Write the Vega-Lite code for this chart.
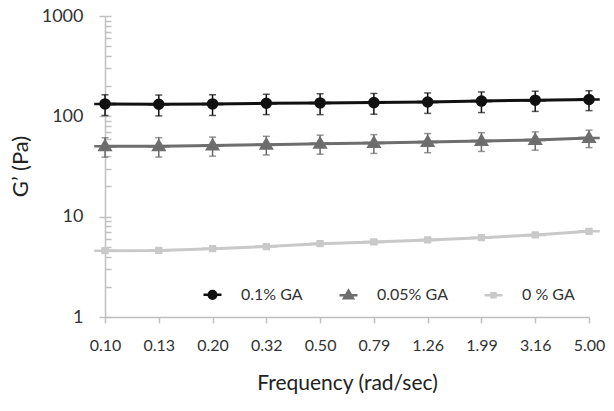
{
  "$schema": "https://vega.github.io/schema/vega-lite/v6.json",
  "width": 484,
  "height": 301,
  "autosize": {"type": "none"},
  "padding": {"left": 105, "top": 16, "right": 25, "bottom": 94},
  "config": {
    "view": {"stroke": null},
    "font": "Lato",
    "axis": {"grid": false, "domainColor": "#c0c0c0", "tickColor": "#c0c0c0", "domainWidth": 1.5, "tickWidth": 1.5, "labelFont": "Lato", "titleFont": "Lato", "labelColor": "#333", "titleColor": "#222", "titleFontWeight": "normal"}
  },
  "data": {
    "values": [
      {"freq": "0.10", "series": "0.1% GA", "g": 133, "err": 31},
      {"freq": "0.13", "series": "0.1% GA", "g": 132, "err": 31},
      {"freq": "0.20", "series": "0.1% GA", "g": 133, "err": 31},
      {"freq": "0.32", "series": "0.1% GA", "g": 135, "err": 31},
      {"freq": "0.50", "series": "0.1% GA", "g": 136, "err": 32},
      {"freq": "0.79", "series": "0.1% GA", "g": 137, "err": 32},
      {"freq": "1.26", "series": "0.1% GA", "g": 139, "err": 32},
      {"freq": "1.99", "series": "0.1% GA", "g": 142, "err": 33},
      {"freq": "3.16", "series": "0.1% GA", "g": 145, "err": 33},
      {"freq": "5.00", "series": "0.1% GA", "g": 147, "err": 33},
      {"freq": "0.10", "series": "0.05% GA", "g": 50.2, "err": 11},
      {"freq": "0.13", "series": "0.05% GA", "g": 50.3, "err": 11},
      {"freq": "0.20", "series": "0.05% GA", "g": 51.1, "err": 11},
      {"freq": "0.32", "series": "0.05% GA", "g": 52.2, "err": 11},
      {"freq": "0.50", "series": "0.05% GA", "g": 53.4, "err": 11.5},
      {"freq": "0.79", "series": "0.05% GA", "g": 54.2, "err": 11.5},
      {"freq": "1.26", "series": "0.05% GA", "g": 55.4, "err": 12},
      {"freq": "1.99", "series": "0.05% GA", "g": 56.7, "err": 12},
      {"freq": "3.16", "series": "0.05% GA", "g": 58.0, "err": 12},
      {"freq": "5.00", "series": "0.05% GA", "g": 60.8, "err": 12},
      {"freq": "0.10", "series": "0 % GA", "g": 4.58, "err": 0.2},
      {"freq": "0.13", "series": "0 % GA", "g": 4.61, "err": 0.2},
      {"freq": "0.20", "series": "0 % GA", "g": 4.80, "err": 0.2},
      {"freq": "0.32", "series": "0 % GA", "g": 5.03, "err": 0.2},
      {"freq": "0.50", "series": "0 % GA", "g": 5.38, "err": 0.25},
      {"freq": "0.79", "series": "0 % GA", "g": 5.60, "err": 0.25},
      {"freq": "1.26", "series": "0 % GA", "g": 5.86, "err": 0.25},
      {"freq": "1.99", "series": "0 % GA", "g": 6.18, "err": 0.3},
      {"freq": "3.16", "series": "0 % GA", "g": 6.57, "err": 0.3},
      {"freq": "5.00", "series": "0 % GA", "g": 7.14, "err": 0.3}
    ]
  },
  "layer": [
    {
      "mark": {"type": "line", "strokeWidth": 3},
      "encoding": {
        "x": {
          "field": "freq", "type": "ordinal", "scale": {"type": "point", "padding": 0},
          "axis": {"title": "Frequency (rad/sec)", "labelAngle": 0, "labelFontSize": 16, "tickSize": 6, "labelPadding": 14, "titleFontSize": 21, "titlePadding": 19}
        },
        "y": {
          "field": "g", "type": "quantitative",
          "scale": {"type": "log", "domain": [1, 1000], "nice": false},
          "axis": {"orient": "left", "title": "G’ (Pa)", "values": [1, 10, 100, 1000], "format": "d", "tickSize": 6, "labelFontSize": 18, "labelPadding": 16, "titleFontSize": 22, "titleX": -85, "titleY": 150, "titleBaseline": "middle", "titleAlign": "center"}
        },
        "detail": {"field": "series"},
        "stroke": {"field": "series", "type": "nominal", "scale": {"domain": ["0.1% GA", "0.05% GA", "0 % GA"], "range": ["#111111", "#6e6e6e", "#c9c9c9"]}}
      }
    },
    {
      "mark": {"type": "errorbar", "ticks": {"size": 7, "thickness": 1.5}, "rule": {"strokeWidth": 1.5}},
      "encoding": {
        "x": {"field": "freq", "type": "ordinal"},
        "y": {"field": "g", "type": "quantitative", "axis": null},
        "yError": {"field": "err"},
        "color": {"field": "series", "type": "nominal"}
      }
    },
    {
      "mark": {"type": "point", "filled": true, "opacity": 1, "size": 462, "strokeWidth": 2.5},
      "encoding": {
        "x": {"field": "freq", "type": "ordinal"},
        "y": {
          "field": "g", "type": "quantitative",
          "axis": {"orient": "left", "title": null, "labels": false, "domain": false, "tickSize": -6, "values": [1,2,3,4,5,6,7,8,9,10,20,30,40,50,60,70,80,90,100,200,300,400,500,600,700,800,900,1000]}
        },
        "stroke": {"field": "series", "type": "nominal"},
        "color": {
          "field": "series", "type": "nominal",
          "scale": {"domain": ["0.1% GA", "0.05% GA", "0 % GA"], "range": ["#111111", "#6a6a6a", "#a8a8a8"]},
          "legend": {
            "title": null, "orient": "none", "direction": "horizontal", "legendX": 97, "legendY": 268,
            "labelFont": "Lato", "labelFontSize": 16, "labelColor": "#333", "labelOffset": 18,
            "columnPadding": 31, "symbolSize": 324, "symbolStrokeWidth": 2.5
          }
        },
        "shape": {"field": "series", "type": "nominal", "scale": {"domain": ["0.1% GA", "0.05% GA", "0 % GA"], "range": ["M-1,0H1M-0.42,0A0.42,0.42,0,1,1,0.42,0A0.42,0.42,0,1,1,-0.42,0Z", "M-1,0H1M0,-0.5L0.5,0.35L-0.5,0.35Z", "M-1,0H1M-0.22,-0.22H0.22V0.22H-0.22Z"]}}
      }
    }
  ],
  "resolve": {"axis": {"y": "independent"}}
}
